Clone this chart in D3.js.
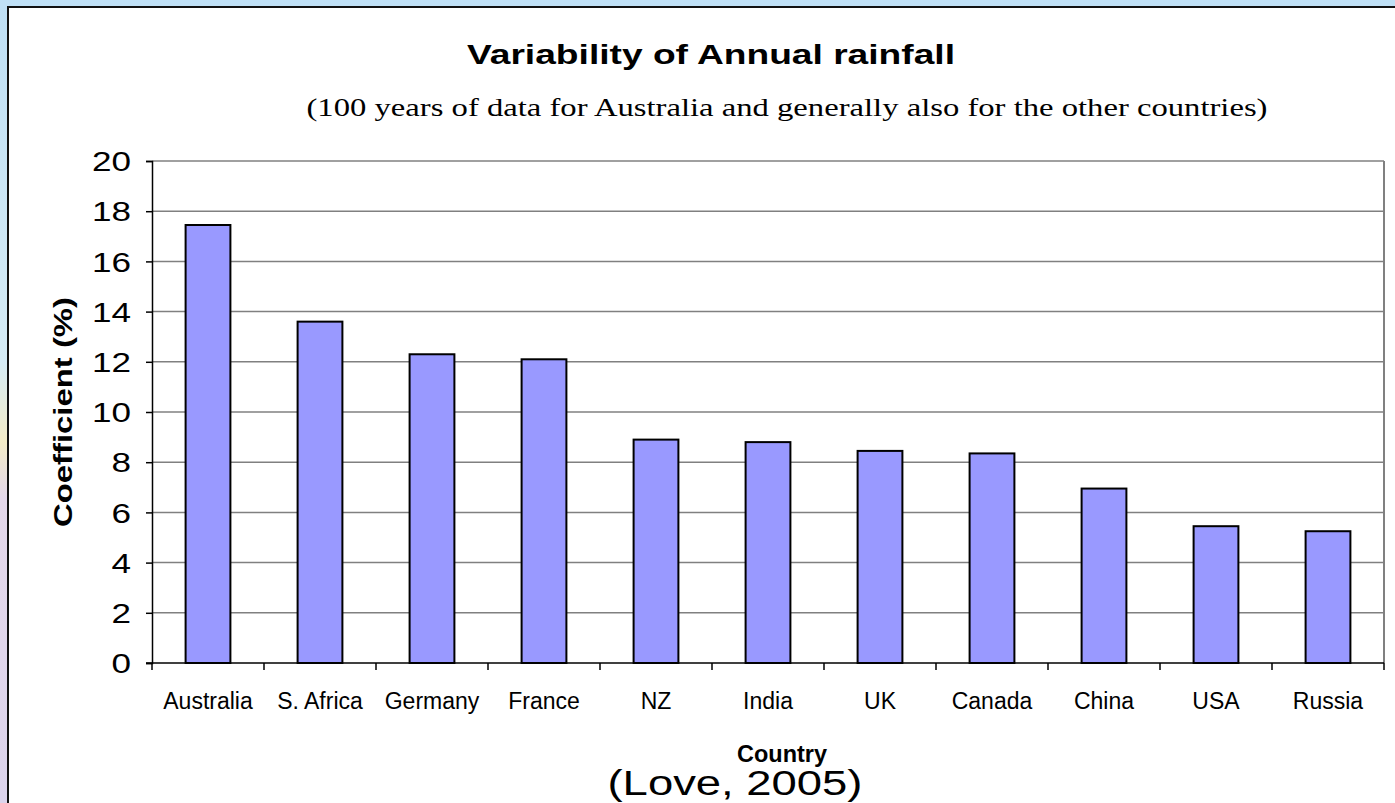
<!DOCTYPE html>
<html>
<head>
<meta charset="utf-8">
<script src="https://cdn.jsdelivr.net/npm/d3@7"></script>
<style>
  html, body { margin: 0; padding: 0; background: #fff; }
  svg { display: block; }
</style>
</head>
<body>
<svg id="chart" width="1395" height="803"></svg>
<script>
// Coefficient of variation of annual rainfall by country (%)
const countries = ["Australia", "S. Africa", "Germany", "France", "NZ", "India", "UK", "Canada", "China", "USA", "Russia"];
const coefficients = [17.45, 13.6, 12.3, 12.1, 8.9, 8.8, 8.45, 8.35, 6.95, 5.45, 5.25];
const yTickValues = [0, 2, 4, 6, 8, 10, 12, 14, 16, 18, 20];

const svg = d3.select("#chart");
const W = 1395, H = 803;
const SANS = "Liberation Sans, Arial, sans-serif";
const SERIF = "Liberation Serif, Times New Roman, serif";

// Slide backdrop peeking out on the left edge
const defs = svg.append("defs");
const bg = defs.append("linearGradient").attr("id", "bg").attr("x1", 0).attr("y1", 0).attr("x2", 0).attr("y2", 1);
bg.append("stop").attr("offset", "0%").attr("stop-color", "#bfe0f6");
bg.append("stop").attr("offset", "45%").attr("stop-color", "#d6ecf6");
bg.append("stop").attr("offset", "55%").attr("stop-color", "#f3ecc8");
bg.append("stop").attr("offset", "62%").attr("stop-color", "#e4d8ea");
bg.append("stop").attr("offset", "100%").attr("stop-color", "#dcd4ec");
svg.append("rect").attr("x", 0).attr("y", 0).attr("width", W).attr("height", H).attr("fill", "url(#bg)");

// White chart panel with dark frame
svg.append("rect").attr("x", 8).attr("y", 7).attr("width", W + 10).attr("height", H + 10)
  .attr("fill", "#fff").attr("stroke", "#111").attr("stroke-width", 2);

const plot = { left: 152, right: 1384, top: 161, bottom: 663 };

const x = d3.scaleBand().domain(countries).range([plot.left, plot.right]).padding(0);
const y = d3.scaleLinear().domain([0, 20]).range([plot.bottom, plot.top]);

// Horizontal gridlines
svg.append("g").selectAll("line").data(yTickValues.filter(v => v > 0)).join("line")
  .attr("x1", plot.left).attr("x2", plot.right)
  .attr("y1", d => y(d)).attr("y2", d => y(d))
  .attr("stroke", "#808080").attr("stroke-width", 1.5);

// Plot area frame (right side)
svg.append("line").attr("x1", plot.right).attr("x2", plot.right)
  .attr("y1", plot.top).attr("y2", plot.bottom)
  .attr("stroke", "#808080").attr("stroke-width", 2);

// Bars
const barFrac = 0.4;
svg.append("g").selectAll("rect").data(countries).join("rect")
  .attr("x", (d) => x(d) + x.bandwidth() * (1 - barFrac) / 2)
  .attr("width", x.bandwidth() * barFrac)
  .attr("y", (d, i) => y(coefficients[i]))
  .attr("height", (d, i) => y(0) - y(coefficients[i]))
  .attr("fill", "#9999ff").attr("stroke", "#000").attr("stroke-width", 2);

// Y axis (labels drawn slightly widened)
const yAxis = d3.axisLeft(y).tickValues(yTickValues).tickSize(6).tickFormat(d3.format("d"));
const gy = svg.append("g").attr("transform", `translate(${plot.left},0)`).call(yAxis);
gy.select(".domain").attr("stroke", "#000").attr("stroke-width", 1.5);
gy.selectAll(".tick line").attr("stroke", "#000").attr("stroke-width", 1.5);
gy.selectAll(".tick text")
  .attr("x", 0).attr("dy", "0.36em")
  .attr("transform", "translate(-21,0) scale(1.3,1)")
  .attr("font-family", SANS).attr("font-size", 27).attr("fill", "#000");

// X axis: category boundary ticks
const gx = svg.append("g").attr("transform", `translate(0,${plot.bottom})`);
gx.append("line").attr("x1", plot.left - 6).attr("x2", plot.right).attr("y1", 0).attr("y2", 0)
  .attr("stroke", "#000").attr("stroke-width", 1.5);
const bounds = countries.map(c => x(c)).concat([plot.right]);
gx.selectAll("line.tk").data(bounds).join("line").attr("class", "tk")
  .attr("x1", d => d).attr("x2", d => d).attr("y1", 0).attr("y2", 7)
  .attr("stroke", "#000").attr("stroke-width", 1.5);
gx.selectAll("text").data(countries).join("text")
  .attr("x", d => x(d) + x.bandwidth() / 2).attr("y", 46)
  .attr("text-anchor", "middle")
  .attr("font-family", SANS).attr("font-size", 23).attr("fill", "#000")
  .text(d => d);

// Titles
svg.append("text").attr("x", 711).attr("y", 64).attr("text-anchor", "middle")
  .attr("font-family", SANS).attr("font-weight", "bold").attr("font-size", 27)
  .attr("textLength", 488).attr("lengthAdjust", "spacingAndGlyphs")
  .text("Variability of Annual rainfall");
svg.append("text").attr("x", 787).attr("y", 116).attr("text-anchor", "middle")
  .attr("font-family", SERIF).attr("font-size", 25)
  .attr("textLength", 961).attr("lengthAdjust", "spacingAndGlyphs")
  .text("(100 years of data for Australia and generally also for the other countries)");

svg.append("text").attr("transform", "translate(72,412) rotate(-90)").attr("text-anchor", "middle")
  .attr("font-family", SANS).attr("font-weight", "bold").attr("font-size", 25)
  .attr("textLength", 230).attr("lengthAdjust", "spacingAndGlyphs")
  .text("Coefficient (%)");

svg.append("text").attr("x", 782).attr("y", 762).attr("text-anchor", "middle")
  .attr("font-family", SANS).attr("font-weight", "bold").attr("font-size", 23)
  .attr("textLength", 90).attr("lengthAdjust", "spacingAndGlyphs")
  .text("Country");
svg.append("text").attr("x", 735).attr("y", 795).attr("text-anchor", "middle")
  .attr("font-family", SANS).attr("font-size", 35)
  .attr("textLength", 255).attr("lengthAdjust", "spacingAndGlyphs")
  .text("(Love, 2005)");
</script>
</body>
</html>
